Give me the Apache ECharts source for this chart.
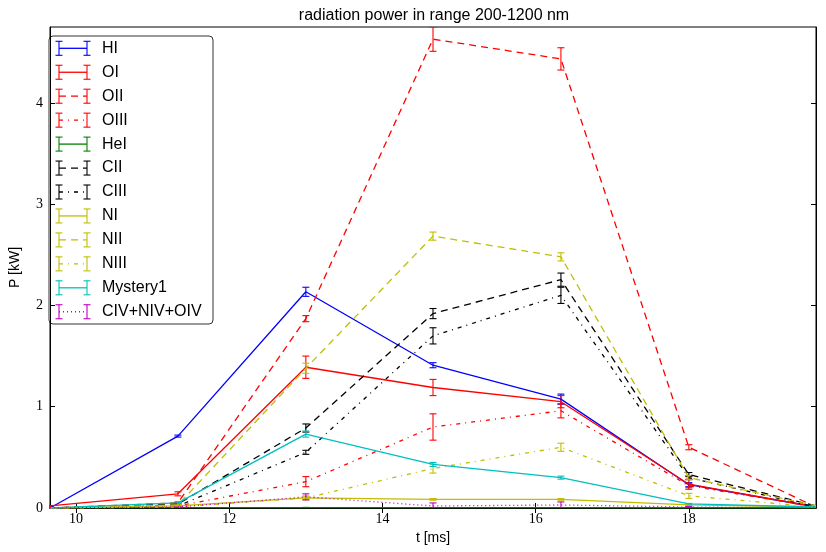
<!DOCTYPE html>
<html><head><meta charset="utf-8">
<script src="https://cdn.jsdelivr.net/npm/echarts@6/dist/echarts.min.js"></script>
<style>html,body{margin:0;padding:0;background:#fff}#c{width:826px;height:552px}</style>
</head><body><div id="c"></div>
<script>
// ---- data ----
const tValues = [9.66, 11.33, 13.0, 14.66, 16.33, 18.0, 19.66];
const xTicks = [10, 12, 14, 16, 18];
const yTicks = [0, 1, 2, 3, 4];
const seriesNames = ['HI','OI','OII','OIII','HeI','CII','CIII','NI','NII','NIII','Mystery1','CIV+NIV+OIV'];

const HI      = [0.0, 0.71, 2.135, 1.41, 1.075, 0.23, 0.01];
const HI_err  = [0.005, 0.01, 0.045, 0.025, 0.05, 0.02, 0.005];
const OI      = [0.02, 0.14, 1.39, 1.19, 1.05, 0.235, 0.01];
const OI_err  = [0.005, 0.02, 0.11, 0.08, 0.06, 0.05, 0.005];
const OII     = [0.0, 0.05, 1.87, 4.63, 4.435, 0.60, 0.01];
const OII_err = [0.005, 0.01, 0.03, 0.12, 0.11, 0.025, 0.005];
const OIII    = [0.0, 0.02, 0.26, 0.80, 0.96, 0.22, 0.01];
const OIII_err= [0.005, 0.005, 0.05, 0.13, 0.07, 0.02, 0.005];
const HeI     = [0.002, 0.003, 0.004, 0.003, 0.003, 0.002, 0.001];
const HeI_err = [0.001, 0.001, 0.002, 0.001, 0.001, 0.001, 0.001];
const CII     = [0.0, 0.04, 0.79, 1.92, 2.255, 0.33, 0.02];
const CII_err = [0.005, 0.01, 0.04, 0.05, 0.065, 0.02, 0.005];
const CIII    = [0.0, 0.02, 0.55, 1.70, 2.10, 0.30, 0.01];
const CIII_err= [0.005, 0.005, 0.02, 0.08, 0.08, 0.02, 0.005];
const NI      = [0.0, 0.02, 0.10, 0.085, 0.085, 0.03, 0.01];
const NI_err  = [0.002, 0.003, 0.01, 0.008, 0.008, 0.005, 0.002];
const NII     = [0.0, 0.03, 1.38, 2.685, 2.48, 0.30, 0.02];
const NII_err = [0.005, 0.005, 0.05, 0.04, 0.04, 0.02, 0.005];
const NIII    = [0.0, 0.01, 0.10, 0.39, 0.60, 0.12, 0.01];
const NIII_err= [0.002, 0.003, 0.02, 0.045, 0.04, 0.025, 0.003];
const Mystery1     = [0.0, 0.05, 0.73, 0.43, 0.30, 0.04, 0.01];
const Mystery1_err = [0.002, 0.005, 0.03, 0.02, 0.015, 0.005, 0.002];
const CIVNIVOIV     = [0.0, 0.01, 0.11, 0.02, 0.03, 0.01, 0.0];
const CIVNIVOIV_err = [0.002, 0.003, 0.03, 0.03, 0.03, 0.005, 0.002];

const allValues = [HI, OI, OII, OIII, HeI, CII, CIII, NI, NII, NIII, Mystery1, CIVNIVOIV];
const allErrors = [HI_err, OI_err, OII_err, OIII_err, HeI_err, CII_err, CIII_err, NI_err, NII_err, NIII_err, Mystery1_err, CIVNIVOIV_err];

// ---- styles ----
const SOLID = null, DASH = [7,5], DASHDOT = [4,5,1,5], DOT = [1,3];
const styles = [
  {c:'#0000ff', d:SOLID}, {c:'#ff0000', d:SOLID}, {c:'#ff0000', d:DASH}, {c:'#ff0000', d:DASHDOT},
  {c:'#008000', d:SOLID}, {c:'#000000', d:DASH}, {c:'#000000', d:DASHDOT},
  {c:'#bfbf00', d:SOLID}, {c:'#bfbf00', d:DASH}, {c:'#bfbf00', d:DASHDOT},
  {c:'#00bfbf', d:SOLID}, {c:'#bf00bf', d:DOT}
];

function errRender(color){
  return function(params, api){
    const x = api.value(0), lo = api.value(1), hi = api.value(2);
    const a = api.coord([x, lo]), b = api.coord([x, hi]);
    const cw = 3.5;
    const st = {stroke: color, lineWidth: 1.1, fill: null};
    return {type:'group', children:[
      {type:'line', shape:{x1:a[0],y1:a[1],x2:b[0],y2:b[1]}, style:st},
      {type:'line', shape:{x1:a[0]-cw,y1:a[1],x2:a[0]+cw,y2:a[1]}, style:st},
      {type:'line', shape:{x1:b[0]-cw,y1:b[1],x2:b[0]+cw,y2:b[1]}, style:st}
    ]};
  };
}

const series = [];
seriesNames.forEach((name, i) => {
  const vals = allValues[i], errs = allErrors[i], s = styles[i];
  series.push({
    type:'line', name, xAxisIndex:0, yAxisIndex:0,
    data: tValues.map((t,k)=>[t, vals[k]]),
    showSymbol:false, symbol:'none', silent:true, animation:false,
    lineStyle:{color:s.c, width:1.3, type: s.d ? s.d : 'solid'},
    itemStyle:{color:s.c}
  });
  series.push({
    type:'custom', name: name + '_err', xAxisIndex:0, yAxisIndex:0, clip:true, silent:true, animation:false,
    renderItem: errRender(s.c),
    encode:{x:0, y:[1,2]},
    data: tValues.map((t,k)=>[t, vals[k]-errs[k], vals[k]+errs[k]])
  });
});

// ---- legend drawn with graphics ----
const legX = 49, legY = 36, legW = 164, legH = 288, rowH = 23.95, row0 = 48.3;
const legendChildren = [{
  type:'rect', shape:{x:legX, y:legY, width:legW, height:legH, r:4},
  style:{fill:'#fff', stroke:'#333', lineWidth:1}
}];
seriesNames.forEach((name, i) => {
  const s = styles[i], y = row0 + i*rowH;
  const x1 = 59, x2 = 87;
  legendChildren.push({type:'line', shape:{x1:x1, y1:y, x2:x2, y2:y},
    style:{stroke:s.c, lineWidth:1.3, lineDash: s.d ? s.d : null}});
  const cap = (x) => [
    {type:'line', shape:{x1:x, y1:y-7, x2:x, y2:y+7}, style:{stroke:s.c, lineWidth:1.1}},
    {type:'line', shape:{x1:x-3.5, y1:y-7, x2:x+3.5, y2:y-7}, style:{stroke:s.c, lineWidth:1.1}},
    {type:'line', shape:{x1:x-3.5, y1:y+7, x2:x+3.5, y2:y+7}, style:{stroke:s.c, lineWidth:1.1}}
  ];
  legendChildren.push(...cap(x1), ...cap(x2));
  legendChildren.push({type:'text', x:102, y:y,
    style:{text:name, fill:'#000', font:'16px "Liberation Sans", sans-serif', textVerticalAlign:'middle', textAlign:'left'}});
});

const tickFont = {fontFamily:'"Liberation Serif", serif', fontSize:14, color:'#000'};
const chart = echarts.init(document.getElementById('c'), null, {renderer:'canvas'});
chart.setOption({
  animation:false,
  backgroundColor:'#fff',
  title:{text:'radiation power in range 200-1200 nm', left:429, top:3, textAlign:'center',
    textStyle:{fontFamily:'"Liberation Sans", sans-serif', fontSize:16, fontWeight:'normal', color:'#000'}},
  grid:{left:42, right:10, top:27, bottom:44, show:true, borderColor:'#000', borderWidth:1, backgroundColor:'transparent'},
  xAxis:[
    {type:'value', min:9.66, max:19.66, position:'bottom',
     name:'t [ms]', nameLocation:'middle', nameGap:21,
     nameTextStyle:{fontFamily:'"Liberation Sans", sans-serif', fontSize:14, color:'#000'},
     axisLine:{show:true, lineStyle:{color:'#000'}},
     axisTick:{show:true, inside:true, length:5, customValues:xTicks, lineStyle:{color:'#000'}},
     axisLabel:{show:true, customValues:xTicks, margin:4, ...tickFont},
     splitLine:{show:false}},
    {type:'value', min:9.66, max:19.66, position:'top',
     axisLine:{show:true, lineStyle:{color:'#000'}},
     axisTick:{show:true, inside:true, length:5, customValues:xTicks, lineStyle:{color:'#000'}},
     axisLabel:{show:false}, splitLine:{show:false}}
  ],
  yAxis:[
    {type:'value', min:0, max:4.75, position:'left',
     name:'P [kW]', nameLocation:'middle', nameGap:28, nameRotate:90,
     nameTextStyle:{fontFamily:'"Liberation Sans", sans-serif', fontSize:14, color:'#000'},
     axisLine:{show:true, lineStyle:{color:'#000'}},
     axisTick:{show:true, inside:true, length:5, customValues:yTicks, lineStyle:{color:'#000'}},
     axisLabel:{show:true, customValues:yTicks, margin:7, ...tickFont},
     splitLine:{show:false}},
    {type:'value', min:0, max:4.75, position:'right',
     axisLine:{show:true, lineStyle:{color:'#000'}},
     axisTick:{show:true, inside:true, length:5, customValues:yTicks, lineStyle:{color:'#000'}},
     axisLabel:{show:false}, splitLine:{show:false}}
  ],
  series: series,
  graphic:[{type:'group', z:100, children:legendChildren}]
});
</script>
</body></html>
